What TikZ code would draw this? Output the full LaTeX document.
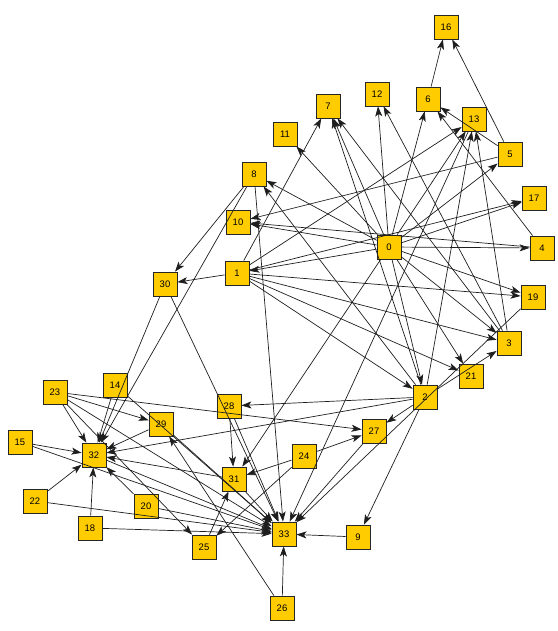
\documentclass[tikz,border=0pt]{standalone}
\usepackage{fontspec}
\setmainfont{Liberation Sans}
\usetikzlibrary{arrows.meta}
\definecolor{nodefill}{RGB}{255,204,0}
\definecolor{edgecol}{RGB}{30,30,30}
\tikzset{
  vbox/.style={rectangle, draw=black!85, line width=0.8bp, fill=nodefill, minimum size=24bp, inner sep=0pt, font=\fontsize{9.5}{10}\selectfont},
  edge/.style={draw=edgecol, line width=0.7bp, -{Stealth[length=10bp,width=7bp,inset=2.5bp]}}
}
\begin{document}
\begin{tikzpicture}[x=1bp,y=-1bp]
\useasboundingbox (0,0) rectangle (558,631);
\node[vbox] (n0) at (389,247) {0};
\node[vbox] (n1) at (237,273) {1};
\node[vbox] (n2) at (425,397) {2};
\node[vbox] (n3) at (509,343) {3};
\node[vbox] (n4) at (542,248) {4};
\node[vbox] (n5) at (510,154) {5};
\node[vbox] (n6) at (428,99) {6};
\node[vbox] (n7) at (328,106) {7};
\node[vbox] (n8) at (254,174) {8};
\node[vbox] (n9) at (358,537) {9};
\node[vbox] (n10) at (238,222) {10};
\node[vbox] (n11) at (285,134) {11};
\node[vbox] (n12) at (377,94) {12};
\node[vbox] (n13) at (474,119) {13};
\node[vbox] (n14) at (115,385) {14};
\node[vbox] (n15) at (20,442) {15};
\node[vbox] (n16) at (446,27) {16};
\node[vbox] (n17) at (534,198) {17};
\node[vbox] (n18) at (90,528) {18};
\node[vbox] (n19) at (533,297) {19};
\node[vbox] (n20) at (146,506) {20};
\node[vbox] (n21) at (471,376) {21};
\node[vbox] (n22) at (35,501) {22};
\node[vbox] (n23) at (55,392) {23};
\node[vbox] (n24) at (304,456) {24};
\node[vbox] (n25) at (204,547) {25};
\node[vbox] (n26) at (282,608) {26};
\node[vbox] (n27) at (374,431) {27};
\node[vbox] (n28) at (229,406) {28};
\node[vbox] (n29) at (161,424) {29};
\node[vbox] (n30) at (165,284) {30};
\node[vbox] (n31) at (234,479) {31};
\node[vbox] (n32) at (94,455) {32};
\node[vbox] (n33) at (284,534) {33};
\foreach \a/\b in {0/1,0/2,0/3,0/4,0/5,0/6,0/7,0/8,0/10,0/11,0/12,0/13,0/17,0/19,0/21,0/31,
  1/2,1/3,1/7,1/13,1/17,1/19,1/21,1/30,
  2/3,2/7,2/8,2/9,2/13,2/27,2/28,2/32,
  3/7,3/12,3/13,4/6,4/10,5/6,5/10,5/16,6/16,
  8/30,8/32,8/33,9/33,13/33,14/32,14/33,15/32,15/33,18/32,18/33,19/33,20/32,20/33,22/32,22/33,
  23/25,23/27,23/29,23/32,23/33,24/25,24/27,24/31,25/31,26/29,26/33,27/33,28/31,28/33,
  29/32,29/33,30/32,30/33,31/32,31/33,32/33}
  \draw[edge] (n\a) -- (n\b);
\end{tikzpicture}
\end{document}
